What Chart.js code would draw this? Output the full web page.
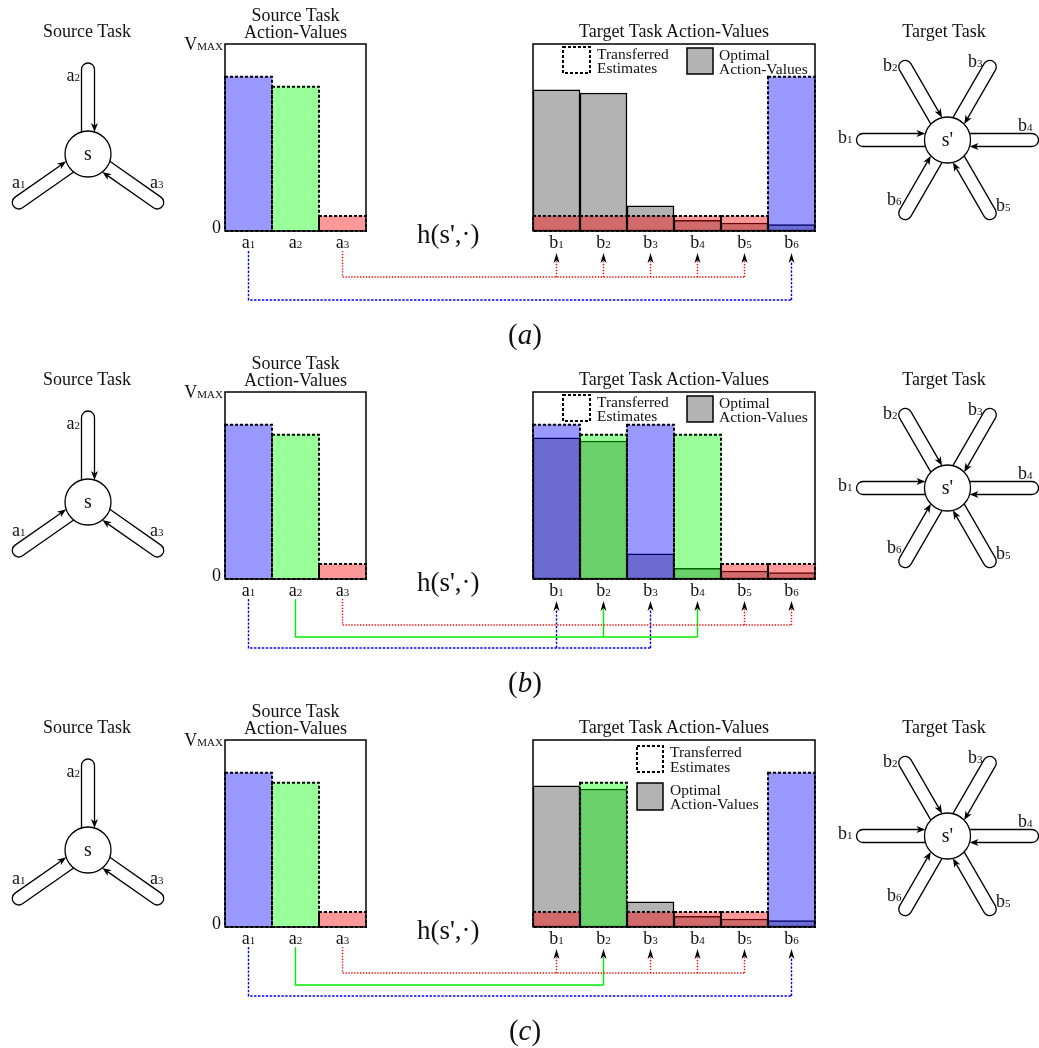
<!DOCTYPE html>
<html>
<head>
<meta charset="utf-8">
<title>Transfer of action-values</title>
<script src="https://cdn.jsdelivr.net/npm/chart.js@4.4.1/dist/chart.umd.min.js"></script>
<style>
  html, body { margin: 0; padding: 0; background: #fff; }
  #fig { position: relative; width: 1039px; height: 1048px; overflow: hidden; background: #fff; }
  #fig canvas { position: absolute; }
  #labels { position: absolute; left: 0; top: 0; z-index: 3; pointer-events: none; }
</style>
</head>
<body>
<div id="fig"></div>
<script>
// ---------------------------------------------------------------- data
const sourceActions = ['a1', 'a2', 'a3'];
const targetActions = ['b1', 'b2', 'b3', 'b4', 'b5', 'b6'];

// action-values of the source task (fraction of V_MAX)
const sourceValues = [0.825, 0.772, 0.08];

// optimal action-values of the target task
const optimalValues = [0.755, 0.738, 0.134, 0.057, 0.043, 0.035];

// h(s',.) : index of the source action whose value is transferred to each target action
const mappingA = [2, 2, 2, 2, 2, 0];
const mappingB = [0, 1, 0, 1, 2, 2];
const mappingC = [2, 1, 2, 2, 2, 0];

// transferred estimates for the target actions
const estimatesA = [0.08, 0.08, 0.08, 0.08, 0.08, 0.825];
const estimatesB = [0.825, 0.772, 0.825, 0.772, 0.08, 0.08];
const estimatesC = [0.08, 0.772, 0.08, 0.08, 0.08, 0.825];

const panelTags = ['a', 'b', 'c'];

// ---------------------------------------------------------------- styles / layout
const FONT = "'Liberation Serif', 'DejaVu Serif', serif";
const SOURCE_FILL = ['rgba(0,0,255,0.4)', 'rgba(0,255,0,0.4)', 'rgba(255,0,0,0.4)'];
const OPTIMAL_FILL = '#b3b3b3';
const LINKS = [
  { color: '#0000ff', dash: [2.4, 1.5], y: 300 },
  { color: '#00ee00', dash: [],         y: 289 },
  { color: '#ff0000', dash: [1.3, 1.6], y: 277 }
];
const PANEL_DY = 348;
const SRC_BOX = { left: 225, top: 44, right: 366, bottom: 231 };
const TGT_BOX = { left: 533, top: 44, right: 815, bottom: 231 };
const PAD = 12;

const fig = document.getElementById('fig');

function makeCanvas(left, top, w, h, z) {
  const c = document.createElement('canvas');
  c.width = w; c.height = h;
  c.style.left = left + 'px'; c.style.top = top + 'px';
  c.style.width = w + 'px'; c.style.height = h + 'px';
  c.style.zIndex = z;
  fig.appendChild(c);
  return c;
}

// frame of the plot area and dashed outline of the transferred values
const frameAndDash = {
  id: 'frameAndDash',
  afterDatasetsDraw(chart) {
    const ctx = chart.ctx, a = chart.chartArea;
    ctx.save();
    ctx.strokeStyle = '#000';
    ctx.lineWidth = 1.5;
    ctx.strokeRect(a.left, a.top, a.right - a.left, a.bottom - a.top);
    ctx.lineWidth = 2;
    ctx.setLineDash([3, 2]);
    chart.data.datasets.forEach((ds, i) => {
      if (!ds.dashed) return;
      chart.getDatasetMeta(i).data.forEach(bar => {
        const p = bar.getProps(['x', 'y', 'base', 'width'], true);
        ctx.strokeRect(p.x - p.width / 2, p.y, p.width, p.base - p.y);
      });
    });
    ctx.restore();
  }
};

function barChart(box, dy, labels, datasets) {
  const w = box.right - box.left + 2 * PAD, h = box.bottom - box.top + 2 * PAD;
  const left = box.left - PAD, top = box.top - PAD + dy;
  const canvas = makeCanvas(left, top, w, h, 1);
  const chart = new Chart(canvas, {
    type: 'bar',
    data: { labels, datasets },
    options: {
      responsive: false, animation: false, events: [], devicePixelRatio: 1,
      layout: { padding: PAD },
      datasets: { bar: { grouped: false, barPercentage: 1, categoryPercentage: 1 } },
      plugins: { legend: { display: false }, tooltip: { enabled: false } },
      scales: {
        x: { display: false, offset: true },
        y: { display: false, min: 0, max: 1 }
      }
    },
    plugins: [frameAndDash]
  });
  chart.$left = left; chart.$top = top;
  return chart;
}

const panels = [
  { mapping: mappingA, estimates: estimatesA, legend: 'row' },
  { mapping: mappingB, estimates: estimatesB, legend: 'row' },
  { mapping: mappingC, estimates: estimatesC, legend: 'column' }
];

panels.forEach((p, k) => {
  p.dy = k * PANEL_DY;
  p.tag = panelTags[k];
  p.src = barChart(SRC_BOX, p.dy, sourceActions, [{
    label: 'Source Task Action-Values',
    data: sourceValues,
    backgroundColor: SOURCE_FILL,
    borderWidth: 0,
    dashed: true
  }]);
  p.tgt = barChart(TGT_BOX, p.dy, targetActions, [{
    label: 'Transferred Estimates',
    data: p.estimates,
    backgroundColor: p.mapping.map(i => SOURCE_FILL[i]),
    borderWidth: 0,
    order: 0,
    dashed: true
  }, {
    label: 'Optimal Action-Values',
    data: optimalValues,
    backgroundColor: OPTIMAL_FILL,
    borderColor: '#000',
    borderWidth: 1.5,
    borderSkipped: false,
    order: 1
  }]);
  // page positions of the bar centres
  p.srcX = sourceActions.map((_, i) => p.src.$left + p.src.scales.x.getPixelForValue(i));
  p.tgtX = targetActions.map((_, j) => p.tgt.$left + p.tgt.scales.x.getPixelForValue(j));
  p.srcY = v => p.src.$top + p.src.scales.y.getPixelForValue(v);
});

// ---------------------------------------------------------------- task graphs and h(s',.) links
const SOURCE_LOOPS = [145, -90, 35];               // a1, a2, a3 directions (deg)
const TARGET_LOOPS = [180, -120, -60, 0, 60, 120]; // b1 .. b6 directions (deg)

function arrowHead(ctx, tx, ty, ux, uy, len, hw) {
  const bx = tx - ux * len, by = ty - uy * len;
  const px = -uy, py = ux;
  ctx.beginPath();
  ctx.moveTo(tx, ty);
  ctx.lineTo(bx + px * hw, by + py * hw);
  ctx.lineTo(tx - ux * len * 0.72, ty - uy * len * 0.72);
  ctx.lineTo(bx - px * hw, by - py * hw);
  ctx.closePath();
  ctx.fill();
}

function drawNode(ctx, X, Y, cx, cy, angles) {
  const r = 23, w = 6.5, L = 91, s = Math.sqrt(r * r - w * w);
  ctx.save();
  ctx.strokeStyle = '#000'; ctx.fillStyle = '#000'; ctx.lineWidth = 1.3;
  angles.forEach(ang => {
    const t = ang * Math.PI / 180, dx = Math.cos(t), dy = Math.sin(t);
    const nx = -dy, ny = dx;
    const ex = cx + dx * (L - w), ey = cy + dy * (L - w);
    ctx.beginPath();
    ctx.moveTo(X(cx + dx * s - nx * w), Y(cy + dy * s - ny * w));
    ctx.lineTo(X(ex - nx * w), Y(ey - ny * w));
    ctx.arc(X(ex), Y(ey), w, t - Math.PI / 2, t + Math.PI / 2);
    ctx.lineTo(X(cx + dx * (s + 5) + nx * w), Y(cy + dy * (s + 5) + ny * w));
    ctx.stroke();
    arrowHead(ctx, X(cx + dx * s + nx * w), Y(cy + dy * s + ny * w), -dx, -dy, 9, 3.5);
  });
  ctx.beginPath();
  ctx.arc(X(cx), Y(cy), r, 0, Math.PI * 2);
  ctx.fillStyle = '#fff'; ctx.fill(); ctx.stroke();
  ctx.restore();
}

function drawLinks(ctx, X, Y, p) {
  const dy = p.dy;
  ctx.save();
  ctx.lineWidth = 1.4;
  LINKS.forEach((link, i) => {
    const targets = p.mapping.map((m, j) => m === i ? j : -1).filter(j => j >= 0);
    if (!targets.length) return;
    const xs = p.srcX[i], yl = link.y + dy;
    const xEnd = Math.max(...targets.map(j => p.tgtX[j]));
    ctx.strokeStyle = link.color;
    ctx.setLineDash(link.dash);
    ctx.beginPath();
    ctx.moveTo(X(xs), Y(251 + dy));
    ctx.lineTo(X(xs), Y(yl));
    ctx.lineTo(X(xEnd), Y(yl));
    targets.forEach(j => {
      ctx.moveTo(X(p.tgtX[j]), Y(yl));
      ctx.lineTo(X(p.tgtX[j]), Y(261 + dy));
    });
    ctx.stroke();
  });
  ctx.setLineDash([]);
  ctx.fillStyle = '#000';
  p.mapping.forEach((m, j) => arrowHead(ctx, X(p.tgtX[j]), Y(253 + dy), 0, -1, 10, 3));
  ctx.restore();
}

const overlayPlugin = {
  id: 'taskGraphs',
  afterDraw(chart) {
    const ctx = chart.ctx;
    const X = v => chart.scales.x.getPixelForValue(v);
    const Y = v => chart.scales.y.getPixelForValue(v);
    panels.forEach(p => {
      drawNode(ctx, X, Y, 88, 154 + p.dy, SOURCE_LOOPS);
      drawNode(ctx, X, Y, 947.5, 140 + p.dy, TARGET_LOOPS);
      drawLinks(ctx, X, Y, p);
    });
  }
};

new Chart(makeCanvas(0, 0, 1039, 1048, 2), {
  type: 'scatter',
  data: { datasets: [] },
  options: {
    responsive: false, animation: false, events: [], devicePixelRatio: 1,
    layout: { padding: 0 },
    plugins: { legend: { display: false }, tooltip: { enabled: false } },
    scales: {
      x: { type: 'linear', min: 0, max: 1039, display: false },
      y: { type: 'linear', min: 0, max: 1048, reverse: true, display: false }
    }
  },
  plugins: [overlayPlugin]
});

// ---------------------------------------------------------------- text
const svgParts = [];
function esc(s) { return s.replace(/&/g, '&amp;').replace(/</g, '&lt;'); }
function txt(x, y, inner, size, anchor, extra) {
  svgParts.push(`<text x="${x.toFixed(1)}" y="${y.toFixed(1)}" font-size="${size}" text-anchor="${anchor || 'start'}" ${extra || ''}>${inner}</text>`);
}
function sub(name, big, small) {
  return `<tspan font-size="${big}">${esc(name[0])}</tspan><tspan font-size="${small}">${esc(name.slice(1))}</tspan>`;
}

const SOURCE_LOOP_LABELS = [[12, 188, 'start'], [80, 81, 'end'], [150, 188, 'start']];
const TARGET_LOOP_LABELS = [[838, 143], [883, 71], [968, 67], [1018, 131], [996, 211], [887, 205]];

panels.forEach(p => {
  const dy = p.dy;
  txt(87, 37 + dy, 'Source Task', 18, 'middle');
  txt(295.5, 20.5 + dy, 'Source Task', 18, 'middle');
  txt(295.5, 37.5 + dy, 'Action-Values', 18, 'middle');
  txt(674, 37 + dy, 'Target Task Action-Values', 18, 'middle');
  txt(944, 37 + dy, 'Target Task', 18, 'middle');

  // value axis of the source chart
  txt(223, p.srcY(1) + 6, '<tspan font-size="18">V</tspan><tspan font-size="11">MAX</tspan>', 18, 'end');
  txt(221, p.srcY(0) + 2, '0', 18, 'end');

  // category labels
  sourceActions.forEach((a, i) => txt(p.srcX[i], 248 + dy, sub(a, 18, 11), 18, 'middle'));
  targetActions.forEach((b, j) => txt(p.tgtX[j], 248 + dy, sub(b, 18, 11), 18, 'middle'));

  txt(417, 243 + dy, esc("h(s',·)"), 27, 'start');
  txt(525, 344 + dy, `(<tspan font-style="italic">${p.tag}</tspan>)`, 29, 'middle');

  // task graphs
  txt(88, 160 + dy, 's', 20, 'middle');
  txt(947.5, 146 + dy, "s'", 20, 'middle');
  sourceActions.forEach((a, i) => {
    const L = SOURCE_LOOP_LABELS[i];
    txt(L[0], L[1] + dy, sub(a, 18, 11), 18, L[2]);
  });
  targetActions.forEach((b, j) => {
    const L = TARGET_LOOP_LABELS[j];
    txt(L[0], L[1] + dy, sub(b, 18, 11), 18, 'start');
  });

  // legend
  const lg = p.legend === 'row'
    ? { d: [563, 47, 27, 26], dt: [597, 58.5, 73], g: [687, 48, 26, 26], gt: [719, 60, 74] }
    : { d: [637, 50, 26, 26], dt: [670, 61, 75.5], g: [637, 87, 26, 27], gt: [670, 99, 113] };
  svgParts.push(`<rect x="${lg.d[0]}" y="${lg.d[1] + dy}" width="${lg.d[2]}" height="${lg.d[3]}" fill="#fff" stroke="#000" stroke-width="2" stroke-dasharray="3 2"/>`);
  svgParts.push(`<rect x="${lg.g[0]}" y="${lg.g[1] + dy}" width="${lg.g[2]}" height="${lg.g[3]}" fill="${OPTIMAL_FILL}" stroke="#000" stroke-width="1.5"/>`);
  txt(lg.dt[0], lg.dt[1] + dy, 'Transferred', 15.5, 'start');
  txt(lg.dt[0], lg.dt[2] + dy, 'Estimates', 15.5, 'start');
  txt(lg.gt[0], lg.gt[1] + dy, 'Optimal', 15.5, 'start');
  txt(lg.gt[0], lg.gt[2] + dy, 'Action-Values', 15.5, 'start');
});

fig.insertAdjacentHTML('beforeend',
  `<svg id="labels" width="1039" height="1048" xmlns="http://www.w3.org/2000/svg" font-family="${FONT.replace(/"/g, '')}" fill="#111">${svgParts.join('')}</svg>`);
</script>
</body>
</html>
